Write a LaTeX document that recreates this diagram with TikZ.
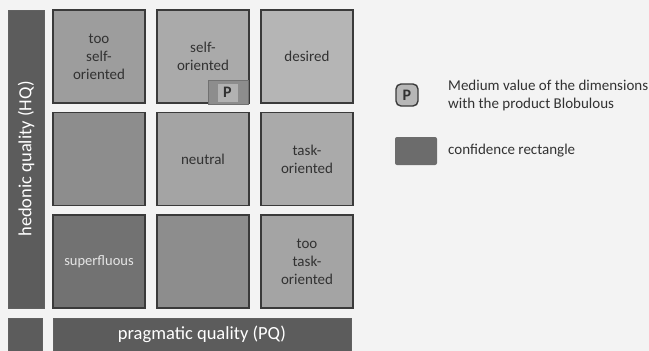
\documentclass[tikz,border=0pt]{standalone}
\usepackage{fontspec}
\setmainfont{Carlito}
\usetikzlibrary{positioning}
\definecolor{paper}{RGB}{243,243,243}
\definecolor{edgegray}{RGB}{58,58,58}
\definecolor{bargray}{RGB}{92,92,92}
\definecolor{textgray}{RGB}{50,50,50}
\definecolor{lightest}{RGB}{181,181,181}
\definecolor{light}{RGB}{170,170,170}
\definecolor{midlight}{RGB}{164,164,164}
\definecolor{mid}{RGB}{157,157,157}
\definecolor{middark}{RGB}{141,141,141}
\definecolor{dark}{RGB}{114,114,114}

\begin{document}
\begin{tikzpicture}[
    % Global Styles
    x=1pt, y=-1pt,
    font=\fontsize{15}{18}\selectfont,
    % Node Styles
    cell/.style={
        rectangle,
        draw=edgegray,
        line width=1.6pt,
        minimum width=92pt,
        minimum height=93pt,
        inner sep=2pt,
        outer sep=0pt,
        align=center,
        text=textgray
    },
    axisbar/.style={
        rectangle,
        draw=edgegray!80,
        fill=bargray,
        line width=1pt,
        inner sep=0pt,
        outer sep=0pt,
        text=white,
        font=\fontsize{18.5}{22}\selectfont
    },
    marker/.style={
        rectangle,
        draw=edgegray,
        fill=light!85!white,
        line width=1.4pt,
        minimum size=19pt,
        inner sep=0pt,
        font=\fontsize{16}{16}\selectfont\bfseries,
        text=textgray
    },
    legendtext/.style={
        anchor=west,
        align=left,
        inner sep=0pt,
        text=textgray
    }
]

    % --- Paper and bounding box ---
    \fill[paper] (0,0) rectangle (649,351);
    \useasboundingbox (0,0) rectangle (649,351);

    % --- Portfolio grid ---
    \node[cell, fill=mid] (c11) at (99,56.5) {too\\self-\\oriented};
    \node[cell, fill=light, right=12pt of c11] (c12) {self-\\oriented};
    \node[cell, fill=lightest, right=12pt of c12] (c13) {desired};

    \node[cell, fill=middark, below=9.5pt of c11] (c21) {};
    \node[cell, fill=midlight, right=12pt of c21] (c22) {neutral};
    \node[cell, fill=light, right=12pt of c22] (c23) {task-\\oriented};

    \node[cell, fill=dark, text=white!80!gray, font=\fontsize{14.5}{17}\selectfont, below=9.5pt of c21] (c31) {superfluous};
    \node[cell, fill=middark, right=12pt of c31] (c32) {};
    \node[cell, fill=midlight, right=12pt of c32] (c33) {too\\task-\\oriented};

    % --- Axes ---
    \node[axisbar, rotate=90, minimum width=298pt, minimum height=36pt] (hq) at (26,159) {hedonic quality (HQ)};
    \node[axisbar, minimum width=298pt, minimum height=33pt] (pq) at (202,334.5) {pragmatic quality (PQ)};
    \node[axisbar, minimum width=34pt, minimum height=33pt] (corner) at (25,334.5) {};

    % --- Product value ---
    \node[rectangle, fill=middark, draw=middark!80!black, line width=1pt, minimum width=40pt, minimum height=24pt, inner sep=0pt,
          anchor=south east] (pbox) at ([yshift=-2pt]c12.south east) {};
    \node[marker, draw=none, fill=light!90!white, minimum width=20pt, minimum height=18pt, xshift=-1pt] (pmark) at (pbox.center) {P};

    % --- Legend ---
    \node[marker, rounded corners=5pt, minimum size=22pt] (pkey) at (407,95) {P};
    \node[legendtext] (pkeytext) at (448,95) {Medium value of the dimensions\\with the product Blobulous};
    \node[rectangle, fill=bargray!90!white, rounded corners=2pt, minimum width=42pt, minimum height=28pt, inner sep=0pt] (ckey) at (416,151) {};
    \node[legendtext] (ckeytext) at (448,151) {confidence rectangle};

\end{tikzpicture}
\end{document}
